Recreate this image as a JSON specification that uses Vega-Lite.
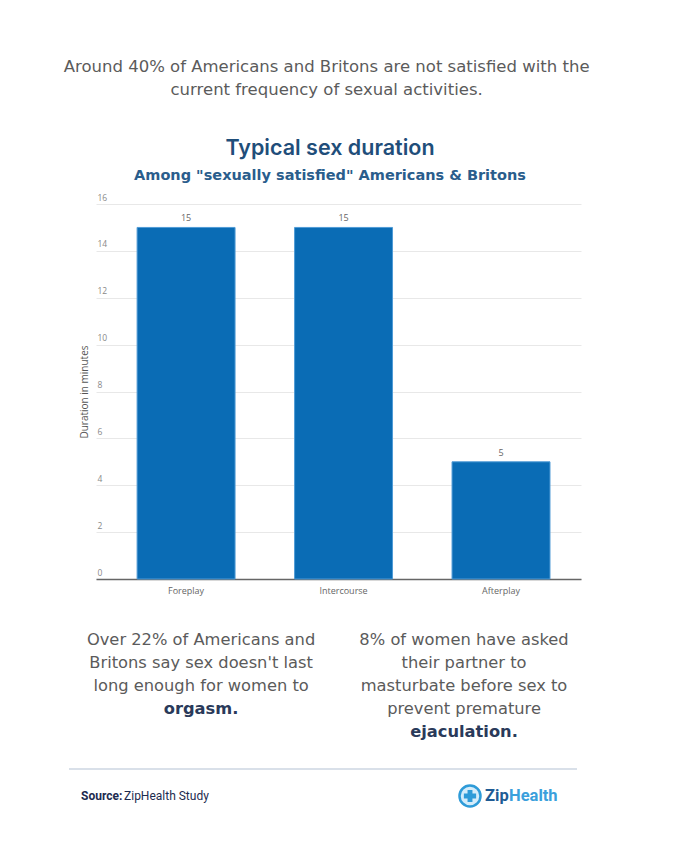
{
  "$schema": "https://vega.github.io/schema/vega-lite/v6.json",
  "background": "white",
  "padding": {"left": 63, "top": 58, "right": 5, "bottom": 5},
  "bounds": "flush",
  "spacing": 30,
  "config": {"view": {"stroke": null}, "font": "DejaVu Sans"},
  "title": {
    "text": ["Around 40% of Americans and Britons are not satisfied with the", "current frequency of sexual activities."],
    "anchor": "middle",
    "dx": 2,
    "font": "DejaVu Sans",
    "fontSize": 16.5,
    "fontWeight": "normal",
    "lineHeight": 23,
    "color": "#5b5b5b",
    "offset": 40
  },
  "vconcat": [
    {
      "width": 512,
      "height": 375,
      "title": {
        "text": "Typical sex duration",
        "subtitle": "Among \"sexually satisfied\" Americans & Britons",
        "anchor": "middle",
        "dx": 5,
        "font": "Inter",
        "fontSize": 21.5,
        "fontWeight": 600,
        "color": "#1f4e7a",
        "subtitleFont": "DejaVu Sans",
        "subtitleFontSize": 14.5,
        "subtitleFontWeight": "bold",
        "subtitleColor": "#2a5d8c",
        "subtitlePadding": 9,
        "offset": 11
      },
      "data": {"values": [
        {"activity": "Foreplay", "minutes": 15},
        {"activity": "Intercourse", "minutes": 15},
        {"activity": "Afterplay", "minutes": 5}
      ]},
      "encoding": {
        "x": {
          "field": "activity", "type": "nominal", "sort": null,
          "scale": {"range": [27, 512], "paddingInner": 0.378, "paddingOuter": 0.229, "align": 0.57},
          "axis": {"title": null, "labelAngle": 0, "ticks": false, "labelPadding": 7, "labelFont": "Open Sans", "labelFontSize": 9, "labelColor": "#666666", "domainColor": "#666666", "domainWidth": 1.5, "grid": false}
        },
        "y": {
          "field": "minutes", "type": "quantitative",
          "scale": {"domain": [0, 16]},
          "axis": {"title": "Duration in minutes", "values": [0, 2, 4, 6, 8, 10, 12, 14, 16], "ticks": false, "tickSize": 0, "domain": false, "labelAlign": "left", "labelBaseline": "bottom", "labelPadding": -28, "labelOffset": -2, "labelFont": "Open Sans", "labelFontSize": 8.5, "labelColor": "#888888", "gridColor": "#e8e8e8", "titleFont": "Open Sans", "titleFontSize": 10, "titleFontWeight": "normal", "titleColor": "#555555", "titleBaseline": "middle", "titleX": 15, "titleY": 187.5}
        }
      },
      "layer": [
        {"mark": {"type": "bar", "color": "#0a6cb5", "stroke": "#4f9bd6", "strokeWidth": 1}},
        {"mark": {"type": "text", "baseline": "bottom", "dy": -4, "font": "Open Sans", "fontSize": 9, "color": "#666666"}, "encoding": {"text": {"field": "minutes"}}}
      ]
    },
    {
      "width": 508,
      "height": 130,
      "data": {"values": [
        {"col": "left", "line": 1, "text": "Over 22% of Americans and"},
        {"col": "left", "line": 2, "text": "Britons say sex doesn't last"},
        {"col": "left", "line": 3, "text": "long enough for women to"},
        {"col": "left", "line": 4, "text": "orgasm."},
        {"col": "right", "line": 1, "text": "8% of women have asked"},
        {"col": "right", "line": 2, "text": "their partner to"},
        {"col": "right", "line": 3, "text": "masturbate before sex to"},
        {"col": "right", "line": 4, "text": "prevent premature"},
        {"col": "right", "line": 5, "text": "ejaculation."}
      ]},
      "encoding": {
        "x": {"field": "col", "type": "nominal", "scale": {"type": "point", "domain": ["left", "right"], "padding": 0.466, "align": 0.539}, "axis": null},
        "y": {"field": "line", "type": "ordinal", "scale": {"type": "point", "domain": [1, 2, 3, 4, 5], "padding": 0.851, "align": 0.81}, "axis": null},
        "text": {"field": "text"}
      },
      "layer": [
        {"transform": [{"filter": "datum.text != 'orgasm.' && datum.text != 'ejaculation.'"}], "mark": {"type": "text", "font": "DejaVu Sans", "fontSize": 16.3, "color": "#5b5b5b", "baseline": "middle"}},
        {"transform": [{"filter": "datum.text == 'orgasm.' || datum.text == 'ejaculation.'"}], "mark": {"type": "text", "font": "DejaVu Sans", "fontSize": 16.3, "fontWeight": "bold", "color": "#2a3a5a", "baseline": "middle"}}
      ]
    },
    {
      "width": 508,
      "height": 27,
      "data": {"values": [
        {"row": "rule", "item": "none", "label": "rule"},
        {"row": "text", "item": "source", "label": "Source:"},
        {"row": "text", "item": "source", "label": "ZipHealth Study"},
        {"row": "text", "item": "logo", "label": "icon"},
        {"row": "text", "item": "logo", "label": "Zip"},
        {"row": "text", "item": "logo", "label": "Health"}
      ]},
      "layer": [
        {
          "transform": [{"filter": "datum.row == 'rule'"}],
          "mark": {"type": "rule", "color": "#cdd6e2", "strokeWidth": 1.5},
          "encoding": {"y": {"field": "row", "type": "nominal", "scale": {"type": "point", "domain": ["rule", "text"], "padding": 0}, "axis": null}}
        },
        {
          "transform": [{"filter": "datum.label == 'Source:'"}],
          "mark": {"type": "text", "align": "left", "baseline": "middle", "font": "Roboto", "fontSize": 12, "fontWeight": "bold", "color": "#1d2b4f"},
          "encoding": {
            "x": {"field": "item", "type": "nominal", "scale": {"type": "point", "domain": ["source", "logo"], "padding": 0.153, "align": 0.101}, "axis": null},
            "y": {"field": "row", "type": "nominal", "axis": null},
            "text": {"field": "label"}
          }
        },
        {
          "transform": [{"filter": "datum.label == 'ZipHealth Study'"}],
          "mark": {"type": "text", "align": "left", "baseline": "middle", "dx": 43, "font": "Roboto", "fontSize": 12, "color": "#1d2b4f"},
          "encoding": {
            "x": {"field": "item", "type": "nominal", "axis": null},
            "y": {"field": "row", "type": "nominal", "axis": null},
            "text": {"field": "label"}
          }
        },
        {
          "transform": [{"filter": "datum.label == 'icon'"}],
          "mark": {"type": "point", "shape": "circle", "size": 441, "filled": true, "fill": "#d4ecfa", "stroke": "#2e9bd8", "strokeWidth": 2.5, "opacity": 1},
          "encoding": {
            "x": {"field": "item", "type": "nominal", "axis": null},
            "y": {"field": "row", "type": "nominal", "axis": null}
          }
        },
        {
          "transform": [{"filter": "datum.label == 'icon'"}],
          "mark": {"type": "point", "shape": "cross", "size": 150, "filled": true, "color": "#2e9bd8", "opacity": 1},
          "encoding": {
            "x": {"field": "item", "type": "nominal", "axis": null},
            "y": {"field": "row", "type": "nominal", "axis": null}
          }
        },
        {
          "transform": [{"filter": "datum.label == 'Zip'"}],
          "mark": {"type": "text", "align": "left", "baseline": "middle", "dx": 15, "font": "Roboto", "fontSize": 16.5, "fontWeight": "bold", "color": "#1f5b94"},
          "encoding": {
            "x": {"field": "item", "type": "nominal", "axis": null},
            "y": {"field": "row", "type": "nominal", "axis": null},
            "text": {"field": "label"}
          }
        },
        {
          "transform": [{"filter": "datum.label == 'Health'"}],
          "mark": {"type": "text", "align": "left", "baseline": "middle", "dx": 39, "font": "Roboto", "fontSize": 16.5, "fontWeight": "bold", "color": "#3aa0dc"},
          "encoding": {
            "x": {"field": "item", "type": "nominal", "axis": null},
            "y": {"field": "row", "type": "nominal", "axis": null},
            "text": {"field": "label"}
          }
        }
      ]
    }
  ]
}
